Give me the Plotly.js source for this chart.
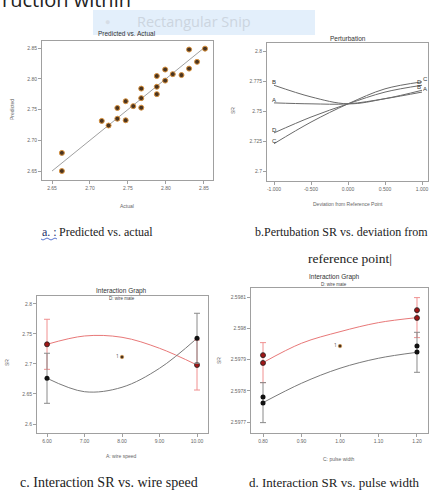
<!DOCTYPE html>
<html><head><meta charset="utf-8">
<script src="https://cdn.plot.ly/plotly-3.0.1.min.js"></script>
<style>html,body{margin:0;padding:0;background:#fff}#chart{width:430px;height:492px}</style>
</head><body><div id="chart"></div><script>
// ---------- Panel a: Predicted vs. Actual ----------
const actualA    = [2.663,2.663,2.7155,2.7245,2.736,2.736,2.747,2.747,2.757,2.7675,2.7675,2.7675,2.788,2.788,2.788,2.799,2.799,2.809,2.8205,2.8305,2.8305,2.841,2.8515];
const predictedA = [2.6795,2.650,2.7315,2.724,2.7525,2.735,2.7635,2.7325,2.7555,2.784,2.7685,2.753,2.8045,2.787,2.775,2.815,2.797,2.8075,2.806,2.8475,2.8165,2.8275,2.849];
const fitLineA   = [2.65, 2.85];
const ticksA     = [2.65, 2.70, 2.75, 2.80, 2.85];
const tickTextA  = ['2.65','2.70','2.75','2.80','2.85'];

// ---------- Panel b: Perturbation ----------
const deviation  = [-1, -0.5, 0, 0.5, 1];
const pertA = [2.7568, 2.7560, 2.7560, 2.7603, 2.7658];
const pertB = [2.7715, 2.7618, 2.7560, 2.7603, 2.7673];
const pertC = [2.7228, 2.7408, 2.7560, 2.7685, 2.7743];
const pertD = [2.7318, 2.7450, 2.7560, 2.7658, 2.7715];
const pertNames = ['A','B','C','D'];
const ticksBx = [-1, -0.5, 0, 0.5, 1];
const tickTextBx = ['-1.000','-0.500','0.000','0.500','1.000'];
const ticksBy = [2.7, 2.725, 2.75, 2.775, 2.8];
const tickTextBy = ['2.7','2.725','2.75','2.775','2.8'];

// ---------- Panel c: Interaction SR vs wire speed ----------
const wireSpeed = [6, 7, 8, 9, 10];
const cRed   = [2.7328, 2.7467, 2.7445, 2.7262, 2.6983];
const cBlack = [2.6762, 2.6538, 2.6612, 2.6928, 2.7428];
const cLSD   = 0.0417;
const cMid   = [8, 2.7117];
const ticksCx = [6, 7, 8, 9, 10];
const tickTextCx = ['6.00','7.00','8.00','9.00','10.00'];
const ticksCy = [2.6, 2.65, 2.7, 2.75, 2.8];
const tickTextCy = ['2.6','2.65','2.7','2.75','2.8'];

// ---------- Panel d: Interaction SR vs pulse width ----------
const pulseWidth = [0.8, 0.9, 1.0, 1.1, 1.2];
const dRed   = [2.597890, 2.597952, 2.597989, 2.598018, 2.598034];
const dBlack = [2.597762, 2.597824, 2.597872, 2.597904, 2.597923];
const dRedPtsX = [0.8, 0.8, 1.2, 1.2];
const dRedPtsY = [2.597914, 2.597889, 2.598058, 2.598033];
const dBlackPtsX = [0.8, 0.8, 1.2, 1.2];
const dBlackPtsY = [2.597780, 2.597761, 2.597943, 2.597924];
const dLSD = 0.000064;
const dMid = [1.0, 2.597943];
const ticksDx = [0.8, 0.9, 1.0, 1.1, 1.2];
const tickTextDx = ['0.80','0.90','1.00','1.10','1.20'];
const ticksDy = [2.5977, 2.5978, 2.5979, 2.5980, 2.5981];
const tickTextDy = ['2.5977','2.5978','2.5979','2.598','2.5981'];

// ---------- helpers ----------
const W = 430, H = 492;
const px = x => x / W, py = y => 1 - y / H;
const RED_LINE = '#e87878', RED_PT = '#a01616', RED_ERR = '#f09090';
const BLK_LINE = '#7a7a7a', BLK_PT = '#111111', BLK_ERR = '#8a8a8a';
const tinyFont = {family: 'Liberation Sans, Arial, sans-serif', size: 5, color: '#666'};

function axis(domain, range, tv, tt, anchor) {
  return {domain, range, tickvals: tv, ticktext: tt, anchor, showline: true, mirror: true,
    linecolor: '#a0a0a0', linewidth: 1, ticks: 'outside', ticklen: 3, tickcolor: '#a0a0a0',
    tickfont: tinyFont, showgrid: false, zeroline: false, fixedrange: true};
}
function ann(text, x, y, o) {
  return Object.assign({text, x: px(x), y: py(y), xref: 'paper', yref: 'paper',
    xanchor: 'center', yanchor: 'middle', showarrow: false, font: tinyFont}, o || {});
}
const ends = arr => [arr[0], arr[arr.length - 1]];

const traces = [];
// a
traces.push({x: fitLineA, y: fitLineA, xaxis: 'x', yaxis: 'y', mode: 'lines',
  line: {color: '#a0a0a0', width: 1}, hoverinfo: 'skip'});
traces.push({x: actualA, y: predictedA, xaxis: 'x', yaxis: 'y', mode: 'markers',
  marker: {size: 5, color: '#4a3420', line: {color: '#d9923e', width: 1}}});
// b
[pertA, pertB, pertC, pertD].forEach(s => traces.push({x: deviation, y: s, xaxis: 'x2', yaxis: 'y2',
  mode: 'lines', line: {color: '#6a6a6a', width: 1, shape: 'spline'}}));
// c
traces.push({x: wireSpeed, y: cRed, xaxis: 'x3', yaxis: 'y3', mode: 'lines', line: {color: RED_LINE, width: 1, shape: 'spline'}});
traces.push({x: wireSpeed, y: cBlack, xaxis: 'x3', yaxis: 'y3', mode: 'lines', line: {color: BLK_LINE, width: 1, shape: 'spline'}});
traces.push({x: ends(wireSpeed), y: ends(cRed), xaxis: 'x3', yaxis: 'y3', mode: 'markers',
  marker: {size: 5, color: RED_PT, line: {color: '#222', width: 0.8}},
  error_y: {type: 'constant', value: cLSD, color: RED_ERR, thickness: 1, width: 3}});
traces.push({x: ends(wireSpeed), y: ends(cBlack), xaxis: 'x3', yaxis: 'y3', mode: 'markers',
  marker: {size: 5, color: BLK_PT},
  error_y: {type: 'constant', value: cLSD, color: BLK_ERR, thickness: 1, width: 3}});
traces.push({x: [cMid[0]], y: [cMid[1]], xaxis: 'x3', yaxis: 'y3', mode: 'markers+text', text: ['1'],
  textposition: 'middle left', textfont: {size: 5, color: '#555'},
  marker: {size: 3.5, color: '#4a3420', line: {color: '#d9923e', width: 0.6}}});
// d
traces.push({x: pulseWidth, y: dRed, xaxis: 'x4', yaxis: 'y4', mode: 'lines', line: {color: RED_LINE, width: 1, shape: 'spline'}});
traces.push({x: pulseWidth, y: dBlack, xaxis: 'x4', yaxis: 'y4', mode: 'lines', line: {color: BLK_LINE, width: 1, shape: 'spline'}});
traces.push({x: ends(pulseWidth), y: ends(dRed), xaxis: 'x4', yaxis: 'y4', mode: 'markers', marker: {size: 1, opacity: 0},
  error_y: {type: 'constant', value: dLSD, color: RED_ERR, thickness: 1, width: 3}});
traces.push({x: ends(pulseWidth), y: ends(dBlack), xaxis: 'x4', yaxis: 'y4', mode: 'markers', marker: {size: 1, opacity: 0},
  error_y: {type: 'constant', value: dLSD, color: BLK_ERR, thickness: 1, width: 3}});
traces.push({x: dRedPtsX, y: dRedPtsY, xaxis: 'x4', yaxis: 'y4', mode: 'markers',
  marker: {size: 5, color: RED_PT, line: {color: '#222', width: 0.8}}});
traces.push({x: dBlackPtsX, y: dBlackPtsY, xaxis: 'x4', yaxis: 'y4', mode: 'markers',
  marker: {size: 5, color: BLK_PT}});
traces.push({x: [dMid[0]], y: [dMid[1]], xaxis: 'x4', yaxis: 'y4', mode: 'markers+text', text: ['1'],
  textposition: 'middle left', textfont: {size: 5, color: '#555'},
  marker: {size: 3.5, color: '#4a3420', line: {color: '#d9923e', width: 0.6}}});

const titleFont = {family: 'Liberation Sans, Arial, sans-serif', size: 6.5, color: '#333'};
const subFont = {family: 'Liberation Sans, Arial, sans-serif', size: 4.5, color: '#444'};
const cap = s => ({family: 'Liberation Serif, serif', size: s, color: '#222'});
const annotations = [
  ann('ruction within', 0, -1, {xanchor: 'left', font: {family: 'Open Sans, sans-serif', size: 20, color: '#222'}}),
  ann('●', 107, 21, {font: {size: 9, color: '#d6dde6'}}),
  ann('Rectangular Snip', 135, 21, {xanchor: 'left', font: {family: 'Open Sans, sans-serif', size: 14.5, color: '#ccd5df'}}),
  // titles
  ann('Predicted vs. Actual', 127, 34, {font: titleFont}),
  ann('Perturbation', 348, 38, {font: titleFont}),
  ann('Interaction Graph', 122, 291, {font: titleFont}),
  ann('D: wire mate', 122, 298.5, {font: subFont}),
  ann('Interaction Graph', 334, 277, {font: titleFont}),
  ann('D: wire mate', 334, 284, {font: subFont}),
  // axis titles
  ann('Predicted', 12, 110, {textangle: -90}),
  ann('Actual', 127, 206),
  ann('SR', 233, 111, {textangle: -90}),
  ann('Deviation from Reference Point', 348, 204),
  ann('SR', 7, 363, {textangle: -90}),
  ann('A: wire speed', 122, 456),
  ann('SR', 219, 361, {textangle: -90}),
  ann('C: pulse width', 339, 459),
  // captions
  ann('a. :', 40, 232, {xanchor: 'left', font: Object.assign(cap(12), {color: '#23306a'})}),
  ann('Predicted vs. actual', 57, 232, {xanchor: 'left', font: cap(12)}),
  ann('b.Pertubation SR vs. deviation from', 253, 232, {xanchor: 'left', font: cap(12)}),
  ann('reference point|', 306, 258, {xanchor: 'left', font: cap(13.5)}),
  ann('c. Interaction SR vs. wire speed', 18, 482, {xanchor: 'left', font: cap(14)}),
  ann('d. Interaction SR vs. pulse width', 247, 482, {xanchor: 'left', font: cap(13)})
];
// perturbation letter labels (data coords)
const pertSeries = [pertA, pertB, pertC, pertD];
pertNames.forEach((n, i) => {
  const s = pertSeries[i];
  annotations.push({text: n, x: deviation[0], y: s[0], xref: 'x2', yref: 'y2', showarrow: false,
    xanchor: 'center', yanchor: 'middle',
    yshift: 3, font: {family: 'Liberation Sans, Arial, sans-serif', size: 6, color: '#333'}});
  annotations.push({text: n, x: deviation[deviation.length - 1], y: s[s.length - 1], xref: 'x2', yref: 'y2', showarrow: false,
    xanchor: 'center', yanchor: 'middle',
    yshift: 3, xshift: (n === 'A' || n === 'C') ? 3 : -3, font: {family: 'Liberation Sans, Arial, sans-serif', size: 6, color: '#333'}});
});

const shapes = [
  {type: 'rect', xref: 'paper', yref: 'paper', x0: px(93), x1: px(315), y0: py(35), y1: py(10),
   fillcolor: 'rgba(222,236,250,0.85)', line: {width: 0}, layer: 'below'},
  {type: 'path', xref: 'paper', yref: 'paper', line: {color: '#3050c0', width: 0.8},
   path: `M ${px(41)} ${py(239)} Q ${px(43)} ${py(241)} ${px(45)} ${py(239)} T ${px(49)} ${py(239)} T ${px(53)} ${py(239)} T ${px(57)} ${py(239)}`}
];

const layout = {
  width: W, height: H, margin: {l: 0, r: 0, t: 0, b: 0},
  paper_bgcolor: '#fff', plot_bgcolor: '#fff', showlegend: false,
  xaxis:  axis([px(42), px(213)], [2.6368, 2.862], ticksA, tickTextA, 'y'),
  yaxis:  axis([py(180), py(41)], [2.6354, 2.8614], ticksA, tickTextA, 'x'),
  xaxis2: axis([px(267), px(428)], [-1.095, 1.081], ticksBx, tickTextBx, 'y2'),
  yaxis2: axis([py(181), py(43)], [2.6917, 2.8067], ticksBy, tickTextBy, 'x2'),
  xaxis3: axis([px(37), px(208)], [5.733, 10.293], ticksCx, tickTextCx, 'y3'),
  yaxis3: axis([py(433), py(296)], [2.585, 2.8133], ticksCy, tickTextCy, 'x3'),
  xaxis4: axis([px(251), px(428)], [0.7688, 1.2286], ticksDx, tickTextDx, 'y4'),
  yaxis4: axis([py(433), py(288)], [2.5976648, 2.5981288], ticksDy, tickTextDy, 'x4'),
  annotations, shapes
};
Plotly.newPlot('chart', traces, layout, {displayModeBar: false, staticPlot: true});
</script></body></html>
